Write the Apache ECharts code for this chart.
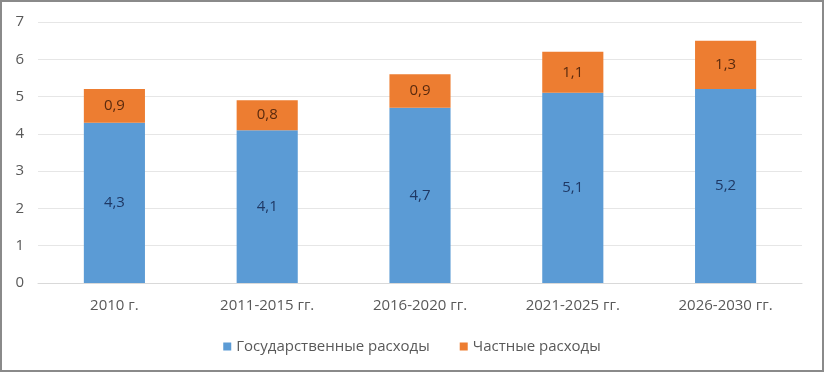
<!DOCTYPE html>
<html>
<head>
<meta charset="utf-8">
<script src="https://cdn.jsdelivr.net/npm/echarts@6/dist/echarts.min.js"></script>
<style>
  html, body { margin: 0; padding: 0; background: #fff; }
  #frame { width: 824px; height: 372px; box-sizing: border-box; border: 2px solid #8a8a8a; }
  #chart { width: 820px; height: 368px; }
</style>
</head>
<body>
<div id="frame"><div id="chart"></div></div>
<script>
const categories = ["2010 г.", "2011-2015 гг.", "2016-2020 гг.", "2021-2025 гг.", "2026-2030 гг."];
const publicSpending = [4.3, 4.1, 4.7, 5.1, 5.2];
const privateSpending = [0.9, 0.8, 0.9, 1.1, 1.3];
const seriesNames = ["Государственные расходы", "Частные расходы"];

const fontFamily = "'Open Sans', 'Liberation Sans', sans-serif";
const fmt = (p) => String(p.value).replace(".", ",");

var chart = echarts.init(document.getElementById("chart"));
var option = {
  animation: false,
  textStyle: { fontFamily: fontFamily },
  grid: { left: 36, right: 20, top: 20, bottom: 87, containLabel: false },
  legend: {
    bottom: 11,
    left: "center",
    itemWidth: 8,
    itemHeight: 8,
    itemGap: 30,
    icon: "rect",
    textStyle: { color: "#595959", fontSize: 15, fontFamily: fontFamily },
    data: seriesNames,
  },
  xAxis: {
    type: "category",
    data: categories,
    axisTick: { show: false },
    axisLine: { lineStyle: { color: "#d9d9d9" } },
    axisLabel: { color: "#595959", fontSize: 15, margin: 15 },
  },
  yAxis: {
    type: "value",
    min: 0,
    max: 7,
    interval: 1,
    axisLine: { show: false },
    axisTick: { show: false },
    splitLine: { lineStyle: { color: "#e6e6e6" } },
    axisLabel: { color: "#595959", fontSize: 15, margin: 14 },
  },
  series: [
    {
      name: seriesNames[0],
      type: "bar",
      stack: "total",
      barWidth: "40%",
      itemStyle: { color: "#5b9bd5" },
      label: { show: true, position: "inside", color: "#1f3864", fontSize: 15, formatter: fmt },
      data: publicSpending,
    },
    {
      name: seriesNames[1],
      type: "bar",
      stack: "total",
      barWidth: "40%",
      itemStyle: { color: "#ed7d31" },
      label: { show: true, position: "inside", color: "#5a2a0e", fontSize: 15, formatter: fmt },
      data: privateSpending,
    },
  ],
};
option && chart.setOption(option);
</script>
</body>
</html>
